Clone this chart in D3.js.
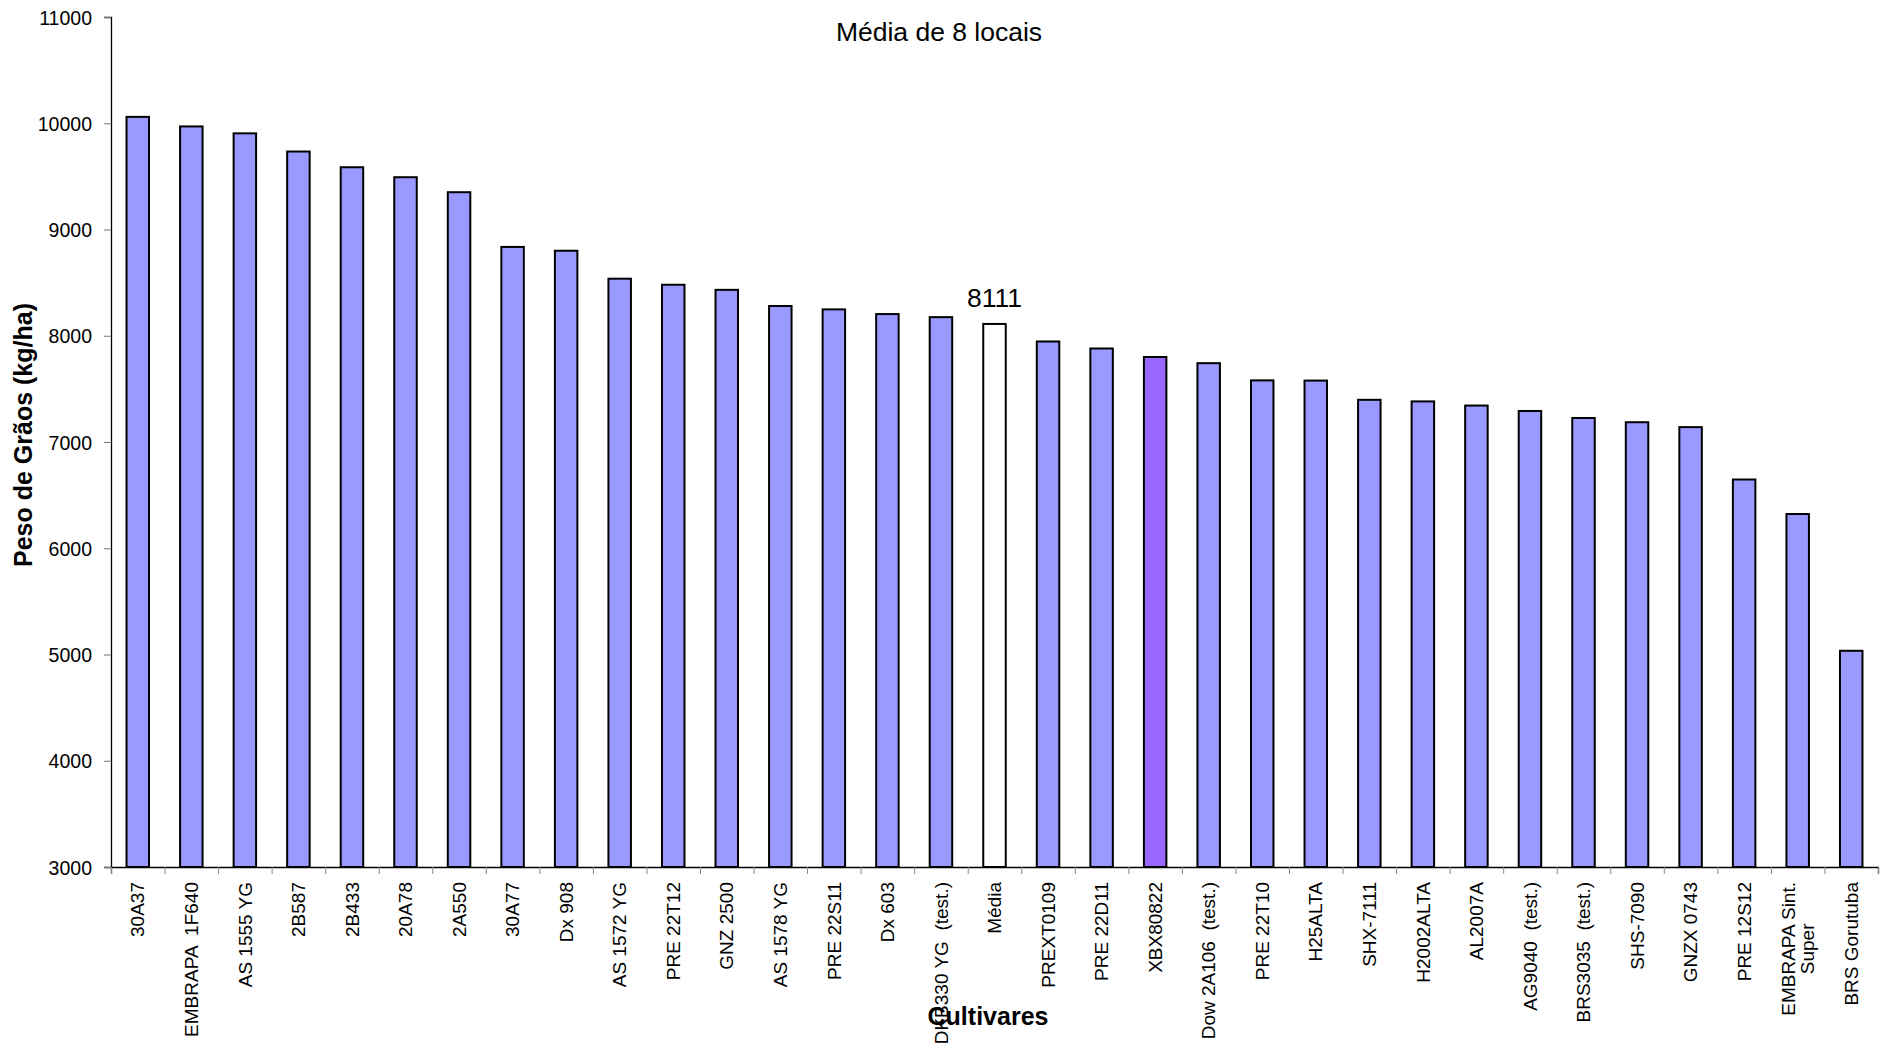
<!DOCTYPE html>
<html>
<head>
<meta charset="utf-8">
<script src="https://cdn.jsdelivr.net/npm/d3@7"></script>
<style>
  html, body { margin: 0; padding: 0; background: #fff; }
  svg text { font-family: "Liberation Sans", Arial, sans-serif; fill: #000; }
</style>
</head>
<body>
<div id="chart"></div>
<script>
// cultivares, ordenados como no gráfico
const categories = ['30A37', 'EMBRAPA  1F640', 'AS 1555 YG', '2B587', '2B433', '20A78', '2A550', '30A77',
  'Dx 908', 'AS 1572 YG', 'PRE 22T12', 'GNZ 2500', 'AS 1578 YG', 'PRE 22S11', 'Dx 603',
  'DKB330 YG  (test.)', 'Média', 'PREXT0109', 'PRE 22D11', 'XBX80822', 'Dow 2A106  (test.)',
  'PRE 22T10', 'H25ALTA', 'SHX-7111', 'H2002ALTA', 'AL2007A', 'AG9040  (test.)', 'BRS3035  (test.)',
  'SHS-7090', 'GNZX 0743', 'PRE 12S12', 'EMBRAPA Sint.\nSuper', 'BRS Gorutuba'];
// peso de grãos (kg/ha), média de 8 locais
const values = [10060, 9970, 9905, 9734, 9586, 9492, 9351, 8836, 8800, 8537, 8480, 8432, 8280, 8248,
  8204, 8175, 8111, 7946, 7880, 7800, 7742, 7580, 7578, 7397, 7382, 7343, 7292, 7226, 7186, 7140,
  6647, 6322, 5035];
const yTicks = [3000, 4000, 5000, 6000, 7000, 8000, 9000, 10000, 11000];
const meanName = 'Média';
const highlightName = 'XBX80822';

const W = 1885, H = 1051;
const margin = {left: 111, top: 17, right: 7, bottom: 184};
const iw = W - margin.left - margin.right, ih = H - margin.top - margin.bottom;

const svg = d3.select('#chart').append('svg').attr('width', W).attr('height', H);
const g = svg.append('g').attr('transform', `translate(${margin.left},${margin.top})`);

const x = d3.scaleBand().domain(categories).range([0, iw]).paddingInner(0.58).paddingOuter(0.29);
const xEdge = d3.scaleLinear().domain([0, categories.length]).range([0, iw]);
const y = d3.scaleLinear().domain([3000, 11000]).range([ih, 0]);

// barras
g.selectAll('rect.bar').data(categories).join('rect')
  .attr('class', 'bar')
  .attr('x', d => x(d))
  .attr('width', x.bandwidth())
  .attr('y', (d, i) => y(values[i]))
  .attr('height', (d, i) => y(3000) - y(values[i]))
  .attr('fill', d => d === meanName ? '#ffffff' : d === highlightName ? '#9966ff' : '#9999ff')
  .attr('stroke', '#000').attr('stroke-width', 2);

// eixo y
const yAxis = g.append('g').call(d3.axisLeft(y).tickValues(yTicks).tickSize(7).tickPadding(12).tickFormat(d3.format('d')));
yAxis.select('.domain').attr('stroke', '#000').attr('stroke-width', 1.3);
yAxis.selectAll('.tick line').attr('stroke', '#777');
yAxis.selectAll('.tick text').style('font-size', '19.5px').attr('dy', '0.36em');

// eixo x: marcas entre categorias
const xAxis = g.append('g').attr('transform', `translate(0,${ih})`)
  .call(d3.axisBottom(xEdge).tickValues(d3.range(categories.length + 1)).tickSize(7).tickFormat(''));
xAxis.select('.domain').attr('stroke', '#000').attr('stroke-width', 1.3);
xAxis.selectAll('.tick line').attr('stroke', '#888');

// rótulos verticais
const labels = g.append('g').attr('transform', `translate(0,${ih + 15})`);
categories.forEach(c => {
  const cx = x(c) + x.bandwidth() / 2;
  const lines = c.split('\n');
  const lg = labels.append('g').attr('transform', `translate(${cx},0) rotate(-90)`);
  if (lines.length === 1) {
    lg.append('text').text(c).attr('text-anchor', 'end').attr('dy', '0.35em')
      .style('font-size', '19px').style('white-space', 'pre');
  } else {
    const t0 = lg.append('text').text(lines[0]).style('font-size', '19px');
    const len = t0.node().getComputedTextLength();
    t0.remove();
    lines.forEach((ln, k) => {
      lg.append('text').text(ln).attr('x', -len / 2).attr('text-anchor', 'middle')
        .attr('dy', `${0.35 + (k - (lines.length - 1) / 2) * 1.0}em`)
        .style('font-size', '19px');
    });
  }
});

// valor da média
const mi = categories.indexOf(meanName);
g.append('text').text(values[mi])
  .attr('x', x(meanName) + x.bandwidth() / 2).attr('y', y(values[mi]) - 17)
  .attr('text-anchor', 'middle').style('font-size', '26.5px');

// títulos
svg.append('text').text('Média de 8 locais').attr('x', 939).attr('y', 41)
  .attr('text-anchor', 'middle').style('font-size', '26.5px');
svg.append('text').text('Cultivares').attr('x', 988).attr('y', 1025)
  .attr('text-anchor', 'middle').style('font-size', '25px').style('font-weight', 'bold');
svg.append('text').text('Peso de Grãos (kg/ha)')
  .attr('transform', `translate(32,435) rotate(-90)`)
  .attr('text-anchor', 'middle').style('font-size', '25px').style('font-weight', 'bold');
</script>
</body>
</html>
